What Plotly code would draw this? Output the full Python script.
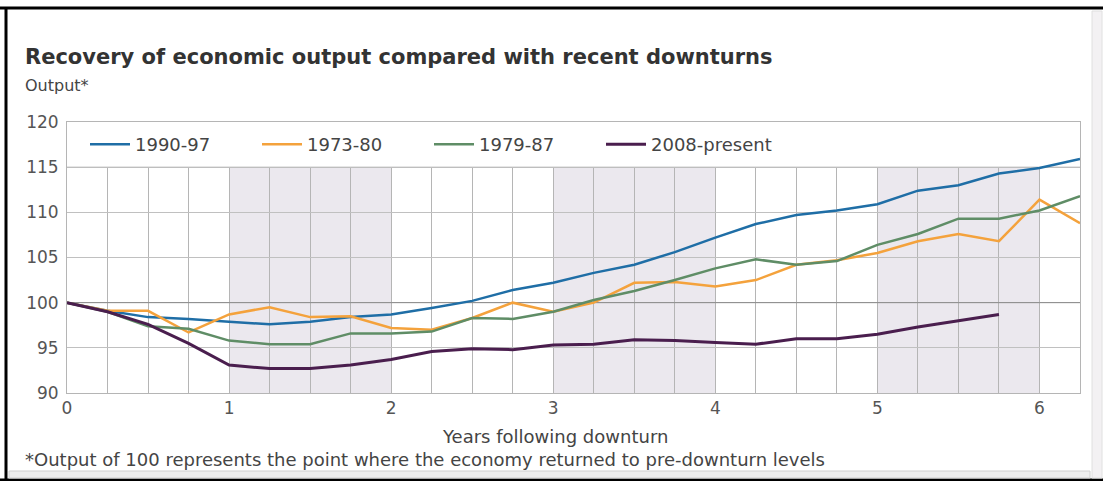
import plotly.graph_objects as go

years = [i * 0.25 for i in range(26)]
years_2008 = [i * 0.25 for i in range(24)]

s1990 = [100, 99.1, 98.4, 98.2, 97.9, 97.6, 97.9, 98.4, 98.7, 99.4, 100.2, 101.4, 102.2,
         103.3, 104.2, 105.6, 107.2, 108.7, 109.7, 110.2, 110.9, 112.4, 113.0, 114.3, 114.9, 115.9]
s1973 = [100, 99.1, 99.1, 96.7, 98.7, 99.5, 98.4, 98.5, 97.2, 97.0, 98.3, 100.0, 99.0,
         100.0, 102.2, 102.3, 101.8, 102.5, 104.2, 104.7, 105.5, 106.8, 107.6, 106.8, 111.4, 108.8]
s1979 = [100, 99.0, 97.4, 97.1, 95.8, 95.4, 95.4, 96.6, 96.6, 96.8, 98.3, 98.2, 99.0,
         100.3, 101.3, 102.5, 103.8, 104.8, 104.2, 104.6, 106.4, 107.6, 109.3, 109.3, 110.2, 111.8]
s2008 = [100, 99.0, 97.6, 95.5, 93.1, 92.7, 92.7, 93.1, 93.7, 94.6, 94.9, 94.8, 95.3,
         95.4, 95.9, 95.8, 95.6, 95.4, 96.0, 96.0, 96.5, 97.3, 98.0, 98.7]

series = [
    ("1990-97", years, s1990, "#1f6ea6"),
    ("1973-80", years, s1973, "#f4a23c"),
    ("1979-87", years, s1979, "#5f8d66"),
    ("2008-present", years_2008, s2008, "#4a1e4e"),
]
shaded = [(1, 2), (3, 4), (5, 6)]
x_ticks = [0, 1, 2, 3, 4, 5, 6]
y_ticks = [90, 95, 100, 105, 110, 115, 120]

FONT = "DejaVu Sans, Verdana, sans-serif"

fig = go.Figure()
for name, xs, ys, col in series:
    fig.add_trace(go.Scatter(x=xs, y=ys, mode="lines", name=name,
                             line=dict(color=col, width=2.5 if name != "2008-present" else 3)))

shapes = []
for a, b in shaded:
    shapes.append(dict(type="rect", xref="x", yref="y", x0=a, x1=b, y0=90, y1=115,
                       fillcolor="#ebe8ee", line=dict(width=0), layer="below"))
shapes.append(dict(type="rect", xref="x", yref="y", x0=0, x1=6.25, y0=115, y1=120,
                   fillcolor="white", line=dict(width=0), layer="between"))
shapes.append(dict(type="line", xref="x", yref="y", x0=0, x1=6.25, y0=100, y1=100,
                   line=dict(color="#8a8a8a", width=1), layer="between"))
shapes.append(dict(type="line", xref="x", yref="y", x0=0, x1=6.25, y0=115, y1=115,
                   line=dict(color="#b5b5b5", width=1), layer="between"))
# screenshot frame
shapes.append(dict(type="line", xref="paper", yref="paper", x0=-67/1013, x1=(1103-67)/1013,
                   y0=1 + (122 - 8) / 271, y1=1 + (122 - 8) / 271,
                   line=dict(color="black", width=3)))
shapes.append(dict(type="line", xref="paper", yref="paper", x0=-61/1013, x1=-61/1013,
                   y0=1 + (122 - 8) / 271, y1=-(480 - 393) / 271,
                   line=dict(color="black", width=3)))
shapes.append(dict(type="line", xref="paper", yref="paper", x0=-67/1013, x1=(1103-67)/1013,
                   y0=-(480 - 393) / 271, y1=-(480 - 393) / 271,
                   line=dict(color="black", width=3)))
shapes.append(dict(type="rect", xref="paper", yref="paper", x0=-58/1013, x1=(1090-67)/1013,
                   y0=-(478 - 393) / 271, y1=-(471 - 393) / 271,
                   fillcolor="#eeeeee", line=dict(color="#d0d0d0", width=1)))
shapes.append(dict(type="rect", xref="paper", yref="paper", x0=(1092-67)/1013, x1=(1102-67)/1013,
                   y0=-(478 - 393) / 271, y1=1 + (122 - 11) / 271,
                   fillcolor="#f3f1f3", line=dict(color="#e0e0e0", width=1)))

annotations = [
    dict(text="<b>Recovery of economic output compared with recent downturns</b>",
         xref="paper", yref="paper", x=-44/1013, y=1 + (122 - 57) / 271, xanchor="left",
         yanchor="middle", showarrow=False, font=dict(size=21, color="#333333", family=FONT)),
    dict(text="Output*", xref="paper", yref="paper", x=-44/1013, y=1 + (122 - 85) / 271,
         xanchor="left", yanchor="middle", showarrow=False,
         font=dict(size=16, color="#444444", family=FONT)),
    dict(text="Years following downturn", xref="paper", yref="paper", x=(555-67)/1013,
         y=-(436 - 393) / 271, xanchor="center", yanchor="middle", showarrow=False,
         font=dict(size=18, color="#444444", family=FONT)),
    dict(text="*Output of 100 represents the point where the economy returned to pre-downturn levels",
         xref="paper", yref="paper", x=-44/1013, y=-(459 - 393) / 271, xanchor="left",
         yanchor="middle", showarrow=False, font=dict(size=18, color="#444444", family=FONT)),
]

fig.update_layout(
    width=1103, height=481,
    margin=dict(l=67, r=23, t=122, b=88),
    paper_bgcolor="white", plot_bgcolor="white",
    font=dict(family=FONT, color="#555555"),
    shapes=shapes, annotations=annotations,
    showlegend=True,
    legend=dict(orientation="h", x=(85-67)/1013, y=1 - 0.5 * 5 / 30, xanchor="left",
                yanchor="middle", bgcolor="rgba(0,0,0,0)", font=dict(size=18, color="#444444"),
                entrywidth=117, itemwidth=40, traceorder="normal"),
    xaxis=dict(range=[0, 6.25], tickvals=x_ticks, showgrid=True, gridcolor="#b5b5b5",
               gridwidth=1, minor=dict(dtick=0.25, tick0=0, showgrid=True, gridcolor="#b5b5b5"),
               showline=True, linecolor="#b5b5b5", mirror=True, zeroline=False,
               ticks="", tickfont=dict(size=17, color="#555555"), fixedrange=True),
    yaxis=dict(range=[90, 120], tickvals=y_ticks, showgrid=True, gridcolor="#c0c0c0",
               showline=True, linecolor="#b5b5b5", mirror=True, zeroline=False,
               ticks="", ticklabelstandoff=4, tickfont=dict(size=17, color="#555555"),
               fixedrange=True),
)

fig.write_html("out.html")
